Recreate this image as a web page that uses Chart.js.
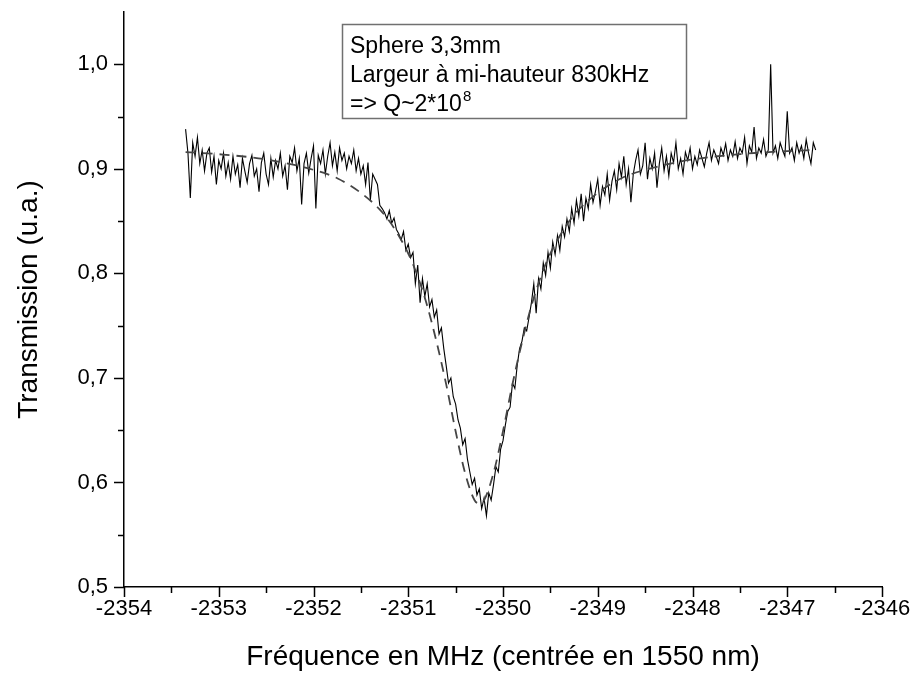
<!DOCTYPE html>
<html><head><meta charset="utf-8">
<script src="https://cdn.jsdelivr.net/npm/chart.js@4.4.0/dist/chart.umd.min.js"></script>
<style>html,body{margin:0;padding:0;background:#fff}#wrap{width:917px;height:678px}</style>
</head><body><div id="wrap"><canvas id="c" width="917" height="678"></canvas></div>
<script>
const freq = [
-2353.350,-2353.325,-2353.300,-2353.275,-2353.250,-2353.225,-2353.200,-2353.175,-2353.150,-2353.125,
-2353.100,-2353.075,-2353.050,-2353.025,-2353.000,-2352.975,-2352.950,-2352.925,-2352.900,-2352.875,
-2352.850,-2352.825,-2352.800,-2352.775,-2352.750,-2352.725,-2352.700,-2352.675,-2352.650,-2352.625,
-2352.600,-2352.575,-2352.550,-2352.525,-2352.500,-2352.475,-2352.450,-2352.425,-2352.400,-2352.375,
-2352.350,-2352.325,-2352.300,-2352.275,-2352.250,-2352.225,-2352.200,-2352.175,-2352.150,-2352.125,
-2352.100,-2352.075,-2352.050,-2352.025,-2352.000,-2351.975,-2351.950,-2351.925,-2351.900,-2351.875,
-2351.850,-2351.825,-2351.800,-2351.775,-2351.750,-2351.725,-2351.700,-2351.675,-2351.650,-2351.625,
-2351.600,-2351.575,-2351.550,-2351.525,-2351.500,-2351.475,-2351.450,-2351.425,-2351.400,-2351.375,
-2351.350,-2351.325,-2351.300,-2351.275,-2351.250,-2351.225,-2351.200,-2351.175,-2351.150,-2351.125,
-2351.100,-2351.075,-2351.050,-2351.025,-2351.000,-2350.975,-2350.950,-2350.925,-2350.900,-2350.875,
-2350.850,-2350.825,-2350.800,-2350.775,-2350.750,-2350.725,-2350.700,-2350.675,-2350.650,-2350.625,
-2350.600,-2350.575,-2350.550,-2350.525,-2350.500,-2350.475,-2350.450,-2350.425,-2350.400,-2350.375,
-2350.350,-2350.325,-2350.300,-2350.275,-2350.250,-2350.225,-2350.200,-2350.175,-2350.150,-2350.125,
-2350.100,-2350.075,-2350.050,-2350.025,-2350.000,-2349.975,-2349.950,-2349.925,-2349.900,-2349.875,
-2349.850,-2349.825,-2349.800,-2349.775,-2349.750,-2349.725,-2349.700,-2349.675,-2349.650,-2349.625,
-2349.600,-2349.575,-2349.550,-2349.525,-2349.500,-2349.475,-2349.450,-2349.425,-2349.400,-2349.375,
-2349.350,-2349.325,-2349.300,-2349.275,-2349.250,-2349.225,-2349.200,-2349.175,-2349.150,-2349.125,
-2349.100,-2349.075,-2349.050,-2349.025,-2349.000,-2348.975,-2348.950,-2348.925,-2348.900,-2348.875,
-2348.850,-2348.825,-2348.800,-2348.775,-2348.750,-2348.725,-2348.700,-2348.675,-2348.650,-2348.625,
-2348.600,-2348.575,-2348.550,-2348.525,-2348.500,-2348.475,-2348.450,-2348.425,-2348.400,-2348.375,
-2348.350,-2348.325,-2348.300,-2348.275,-2348.250,-2348.225,-2348.200,-2348.175,-2348.150,-2348.125,
-2348.100,-2348.075,-2348.050,-2348.025,-2348.000,-2347.975,-2347.950,-2347.925,-2347.900,-2347.875,
-2347.850,-2347.825,-2347.800,-2347.775,-2347.750,-2347.725,-2347.700,-2347.675,-2347.650,-2347.625,
-2347.600,-2347.575,-2347.550,-2347.525,-2347.500,-2347.475,-2347.450,-2347.425,-2347.400,-2347.375,
-2347.350,-2347.325,-2347.300,-2347.275,-2347.250,-2347.225,-2347.200,-2347.175,-2347.150,-2347.125,
-2347.100,-2347.075,-2347.050,-2347.025,-2347.000,-2346.975,-2346.950,-2346.925,-2346.900,-2346.875,
-2346.850,-2346.825,-2346.800,-2346.775,-2346.750,-2346.725,-2346.700
];
const transmission = [
0.938,0.915,0.872,0.925,0.912,0.930,0.905,0.918,0.898,0.915,
0.920,0.897,0.912,0.885,0.908,0.900,0.915,0.893,0.906,0.890,
0.912,0.895,0.904,0.882,0.910,0.898,0.887,0.905,0.913,0.893,
0.900,0.878,0.906,0.915,0.895,0.885,0.910,0.892,0.908,0.900,
0.915,0.893,0.903,0.880,0.912,0.906,0.920,0.898,0.910,0.866,
0.905,0.915,0.896,0.910,0.922,0.862,0.913,0.905,0.918,0.895,
0.912,0.925,0.903,0.916,0.898,0.920,0.908,0.915,0.900,0.912,
0.905,0.918,0.898,0.910,0.895,0.903,0.885,0.906,0.870,0.895,
0.890,0.885,0.865,0.862,0.858,0.852,0.860,0.848,0.853,0.842,
0.838,0.832,0.840,0.822,0.828,0.815,0.820,0.790,0.808,0.772,
0.795,0.778,0.790,0.768,0.775,0.758,0.765,0.742,0.748,0.728,
0.712,0.695,0.700,0.682,0.675,0.660,0.652,0.636,0.642,0.622,
0.610,0.598,0.604,0.588,0.594,0.575,0.585,0.568,0.590,0.583,
0.598,0.615,0.610,0.632,0.640,0.655,0.668,0.672,0.695,0.690,
0.712,0.728,0.735,0.748,0.745,0.758,0.772,0.790,0.762,0.795,
0.785,0.810,0.798,0.820,0.805,0.830,0.818,0.836,0.822,0.845,
0.835,0.852,0.840,0.862,0.848,0.870,0.855,0.876,0.850,0.872,
0.862,0.885,0.868,0.878,0.890,0.865,0.883,0.875,0.895,0.870,
0.888,0.898,0.880,0.905,0.892,0.912,0.885,0.900,0.868,0.895,
0.908,0.918,0.895,0.903,0.925,0.890,0.910,0.900,0.915,0.882,
0.905,0.920,0.898,0.912,0.893,0.915,0.906,0.925,0.900,0.910,
0.895,0.916,0.908,0.920,0.900,0.912,0.904,0.918,0.910,0.902,
0.915,0.925,0.908,0.918,0.912,0.905,0.920,0.913,0.924,0.908,
0.918,0.912,0.926,0.910,0.920,0.915,0.930,0.905,0.922,0.916,
0.940,0.910,0.920,0.915,0.928,0.912,0.918,1.000,0.915,0.922,
0.910,0.925,0.918,0.912,0.955,0.915,0.920,0.908,0.925,0.915,
0.922,0.910,0.928,0.915,0.905,0.925,0.918
];
const fitFreq = [-2353.35,-2353.0,-2352.5,-2352.0,-2351.75,-2351.5,-2351.3,-2351.2,-2351.1,-2351.0,-2350.9,-2350.8,-2350.7,-2350.6,-2350.5,-2350.4,-2350.3,-2350.25,-2350.2,-2350.1,-2350.0,-2349.9,-2349.8,-2349.7,-2349.6,-2349.5,-2349.4,-2349.3,-2349.2,-2349.0,-2348.75,-2348.5,-2348.0,-2347.5,-2347.0,-2346.7];
const fitTransmission = [0.916,0.914,0.909,0.899,0.891,0.877,0.861,0.850,0.836,0.819,0.797,0.769,0.734,0.694,0.649,0.609,0.583,0.580,0.583,0.609,0.649,0.694,0.734,0.769,0.797,0.819,0.836,0.850,0.861,0.877,0.891,0.899,0.909,0.914,0.917,0.918];
const xMajorTicks = [-2354,-2353,-2352,-2351,-2350,-2349,-2348,-2347,-2346];
const xMinorTicks = [-2353.5,-2352.5,-2351.5,-2350.5,-2349.5,-2348.5,-2347.5,-2346.5];
const yMajorTicks = [0.5,0.6,0.7,0.8,0.9,1.0];
const yMinorTicks = [0.55,0.65,0.75,0.85,0.95];
const xTitle = "Fréquence en MHz (centrée en 1550 nm)";
const yTitle = "Transmission (u.a.)";
const noteLines = ["Sphere 3,3mm","Largeur à mi-hauteur 830kHz","=> Q~2*10"];
const noteSup = "8";

const FONT = "'Liberation Sans', Arial, Helvetica, sans-serif";

const tickPlugin = {
  id: 'tickMarks',
  afterDraw(chart) {
    const ctx = chart.ctx, xs = chart.scales.x, ys = chart.scales.y;
    const a = chart.chartArea;
    ctx.save();
    ctx.strokeStyle = '#000';
    ctx.lineWidth = 1.5;
    ctx.beginPath();
    yMajorTicks.forEach(v => { const p = Math.round(ys.getPixelForValue(v)) + 0.5; ctx.moveTo(a.left - 10, p); ctx.lineTo(a.left, p); });
    yMinorTicks.forEach(v => { const p = Math.round(ys.getPixelForValue(v)) + 0.5; ctx.moveTo(a.left - 6, p); ctx.lineTo(a.left, p); });
    xMajorTicks.forEach(v => { const p = Math.round(xs.getPixelForValue(v)) + 0.5; ctx.moveTo(p, a.bottom); ctx.lineTo(p, a.bottom + 10); });
    xMinorTicks.forEach(v => { const p = Math.round(xs.getPixelForValue(v)) + 0.5; ctx.moveTo(p, a.bottom); ctx.lineTo(p, a.bottom + 6); });
    ctx.stroke();
    // annotation box
    const bx = 342.5, by = 24.5, bw = 344, bh = 94;
    ctx.fillStyle = '#fff';
    ctx.fillRect(bx, by, bw, bh);
    ctx.strokeStyle = '#707070';
    ctx.lineWidth = 1.5;
    ctx.strokeRect(bx, by, bw, bh);
    ctx.fillStyle = '#000';
    ctx.font = "23px " + FONT;
    ctx.textBaseline = 'alphabetic';
    ctx.textAlign = 'left';
    const lh = 29;
    noteLines.forEach((t, i) => ctx.fillText(t, 350, 53 + i * lh));
    const w = ctx.measureText(noteLines[2]).width;
    ctx.font = "15px " + FONT;
    ctx.fillText(noteSup, 350 + w + 1, 53 + 2 * lh - 10);
    ctx.restore();
  }
};

new Chart(document.getElementById('c'), {
  type: 'scatter',
  data: {
    datasets: [
      { label: 'fit', data: fitFreq.map((x, i) => ({x, y: fitTransmission[i]})), showLine: true,
        borderColor: '#454545', borderWidth: 1.8, borderDash: [10, 7], pointRadius: 0, tension: 0.3, cubicInterpolationMode: 'monotone' },
      { label: 'mesure', data: freq.map((x, i) => ({x, y: transmission[i]})), showLine: true,
        borderColor: '#000', borderWidth: 1.1, pointRadius: 0, tension: 0 }
    ]
  },
  options: {
    responsive: false, animation: false, devicePixelRatio: 1,
    layout: { padding: { top: 12, right: 35, left: 0, bottom: 0 } },
    plugins: { legend: { display: false }, tooltip: { enabled: false } },
    scales: {
      x: {
        type: 'linear', min: -2354, max: -2346,
        afterBuildTicks: s => { s.ticks = xMajorTicks.map(v => ({value: v})); },
        afterFit: s => { s.height = 91; s.paddingLeft = 0; s.paddingRight = 0; },
        grid: { display: false, drawTicks: false },
        border: { display: true, color: '#000', width: 1.5 },
        ticks: { color: '#000', font: { family: FONT, size: 22 }, padding: 9, maxRotation: 0, autoSkip: false,
                 callback: v => String(v) },
        title: { display: true, text: xTitle, color: '#000', font: { family: FONT, size: 28 }, padding: { top: 0, bottom: 4 } }
      },
      y: {
        type: 'linear', min: 0.5, max: 1.05,
        afterBuildTicks: s => { s.ticks = yMajorTicks.map(v => ({value: v})); },
        afterFit: s => { s.width = 124; s.paddingTop = 0; s.paddingBottom = 0; },
        grid: { display: false, drawTicks: false },
        border: { display: true, color: '#000', width: 1.5 },
        ticks: { color: '#000', font: { family: FONT, size: 22 }, padding: 16, autoSkip: false,
                 callback: v => v.toFixed(1).replace('.', ',') },
        title: { display: true, text: yTitle, color: '#000', font: { family: FONT, size: 28 }, padding: { top: 12, bottom: 0 } }
      }
    }
  },
  plugins: [tickPlugin]
});
</script>
</body></html>
